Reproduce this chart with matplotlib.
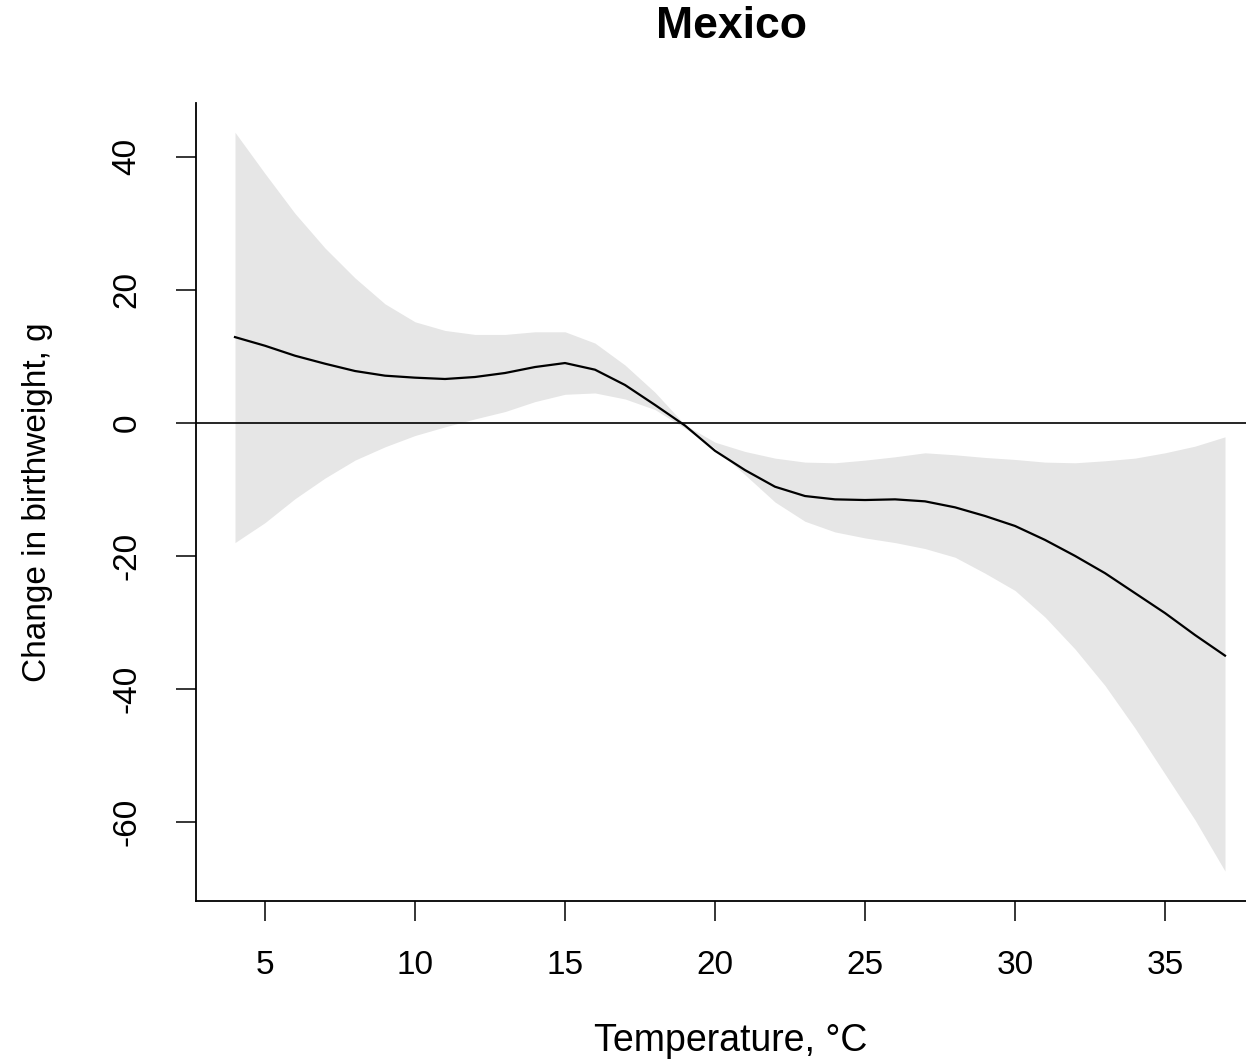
import matplotlib.pyplot as plt
import numpy as np

# Temperature grid and estimated effect with confidence band
temp = [4, 5, 6, 7, 8, 9, 10, 11, 12, 13, 14, 15, 16, 17, 18, 19, 20,
        21, 22, 23, 24, 25, 26, 27, 28, 29, 30, 31, 32, 33, 34, 35, 36, 37]
effect = [12.9, 11.6, 10.1, 8.9, 7.8, 7.1, 6.8, 6.6, 6.9, 7.5, 8.4, 9.0,
          8.0, 5.7, 2.7, -0.4, -4.2, -7.1, -9.6, -11.0, -11.5, -11.6, -11.5,
          -11.8, -12.7, -14.0, -15.5, -17.6, -20.0, -22.6, -25.6, -28.6,
          -31.9, -35.0]
upper = [43.7, 37.5, 31.5, 26.3, 21.8, 17.9, 15.2, 13.9, 13.3, 13.3, 13.7,
         13.7, 12.0, 8.7, 4.6, -0.3, -2.9, -4.3, -5.3, -5.9, -6.0, -5.6, -5.1,
         -4.5, -4.8, -5.2, -5.5, -5.9, -6.0, -5.7, -5.3, -4.5, -3.5, -2.1]
lower = [-18.0, -15.0, -11.4, -8.3, -5.6, -3.6, -1.9, -0.6, 0.6, 1.7, 3.2,
         4.3, 4.5, 3.6, 2.0, -0.8, -3.8, -7.8, -11.9, -14.8, -16.4, -17.3,
         -18.0, -18.9, -20.2, -22.6, -25.2, -29.2, -34.0, -39.5, -45.9,
         -52.8, -59.7, -67.4]

x_ticks = [5, 10, 15, 20, 25, 30, 35]
y_ticks = [-60, -40, -20, 0, 20, 40]

plt.rcParams['font.family'] = ['Liberation Sans', 'DejaVu Sans']

fig = plt.figure(figsize=(12.46, 10.6), dpi=100)
ax = fig.add_axes([0.1573, 0.15, 0.8427, 0.7528])

ax.fill_between(temp, lower, upper, color='#e6e6e6', linewidth=0)
ax.plot(temp, effect, color='black', linewidth=1.6)
ax.axhline(0, color='black', linewidth=1.2)

ax.set_xlim(2.7, 37.7)
ax.set_ylim(-71.9, 48.1)

for side in ['top', 'right']:
    ax.spines[side].set_visible(False)
for side in ['left', 'bottom']:
    ax.spines[side].set_linewidth(1.3)

ax.set_xticks(x_ticks)
ax.set_yticks(y_ticks)
ax.set_yticklabels([str(v) for v in y_ticks], rotation=90, va='center')
ax.tick_params(axis='both', length=14.5, width=1.1, labelsize=24)
ax.tick_params(axis='x', pad=21)
ax.tick_params(axis='y', pad=24)

ax.set_xlabel('Temperature, °C', fontsize=27, labelpad=30)
ax.xaxis.label.set_x(0.509)
ax.set_ylabel('Change in birthweight, g', fontsize=24, labelpad=42)
ax.set_title('Mexico', fontsize=32, fontweight='bold', pad=47, x=0.51)

fig.savefig('out.png', dpi=100)
